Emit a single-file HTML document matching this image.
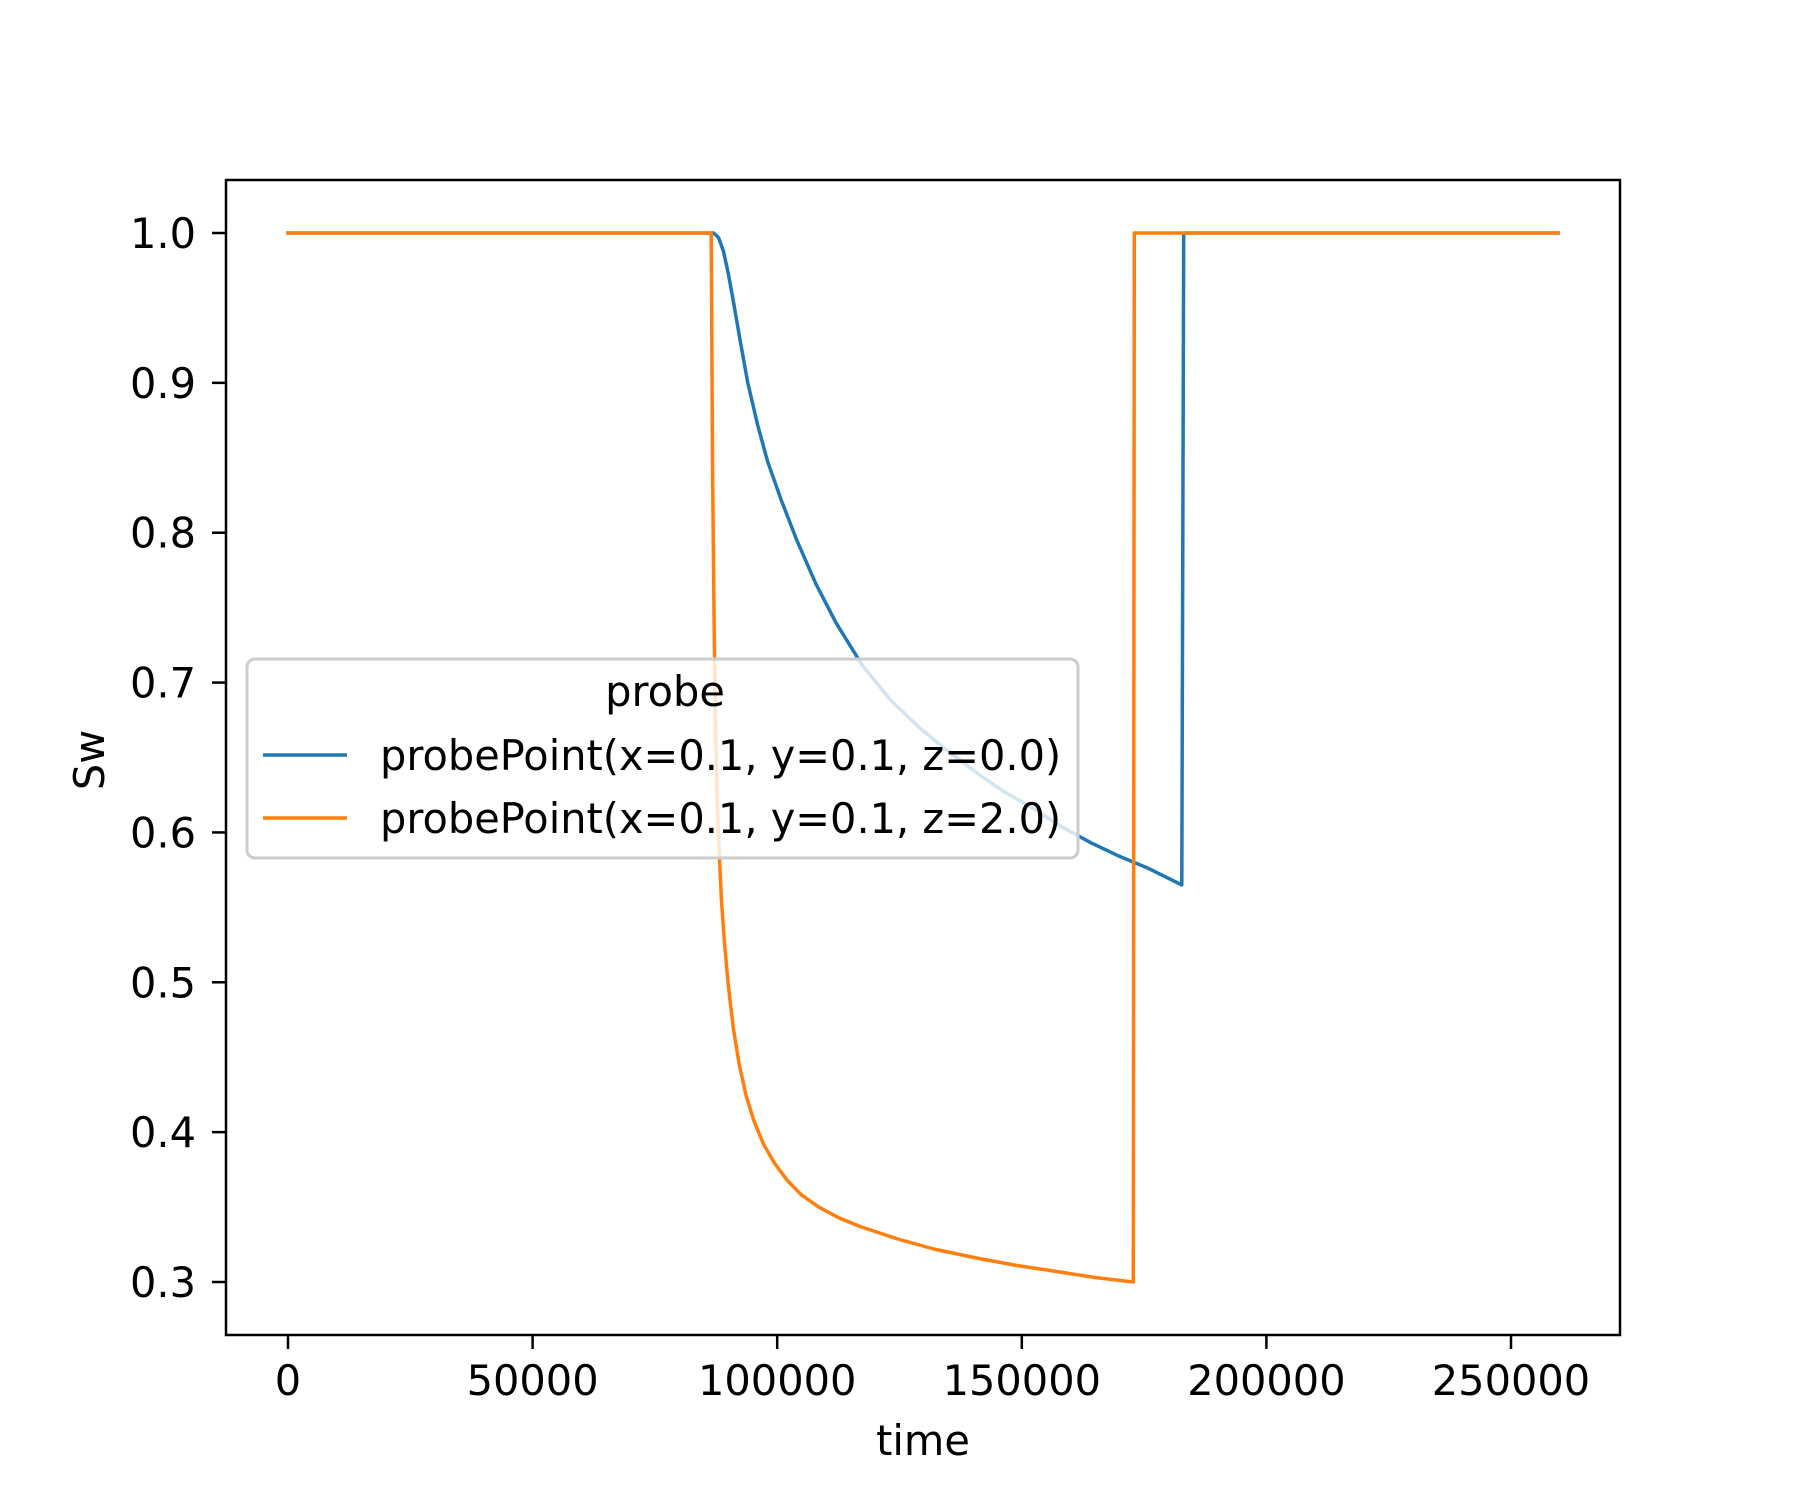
<!DOCTYPE html>
<html><head><meta charset="utf-8"><style>
html,body{margin:0;padding:0;background:#fff}
svg{display:block;font-family:"DejaVu Sans","Liberation Sans",sans-serif}
</style></head><body>
<svg id="chart" width="1800" height="1500" viewBox="0 0 1800 1500">
<rect width="1800" height="1500" fill="#fff"/>
<g id="plot"></g>
</svg>
<script>
const xTicks=[0,50000,100000,150000,200000,250000];
const yTicks=[0.3,0.4,0.5,0.6,0.7,0.8,0.9,1.0];
const blueT=[0,87000,88000,89000,90000,91000,92500,94000,96000,98000,100800,104000,107900,112000,117300,123000,129000,135000,140700,146000,152400,158000,164200,170000,175900,182700,183100,259600];
const blueV=[1.0,1.0,0.997,0.988,0.973,0.955,0.927,0.9,0.872,0.848,0.822,0.795,0.766,0.74,0.712,0.689,0.67,0.654,0.64,0.628,0.616,0.604,0.593,0.584,0.576,0.565,1.0,1.0];
const orangeT=[0,86500,86800,87100,87400,87700,88100,88600,89200,90000,91000,92200,93600,95200,97200,99500,102000,105000,108500,112500,117000,124300,132000,140700,149000,157100,165000,172800,173000,259600];
const orangeV=[1.0,1.0,0.84,0.74,0.67,0.625,0.59,0.555,0.527,0.498,0.47,0.446,0.425,0.408,0.392,0.379,0.368,0.358,0.35,0.343,0.337,0.329,0.322,0.316,0.311,0.307,0.303,0.3,1.0,1.0];
const L=226,R=1620,T=180,B=1335;
const sx=t=>288+t*(1511-288)/250000;
const sy=v=>233+(1-v)*(1282-233)/0.7;
const NS='http://www.w3.org/2000/svg';
const g=document.getElementById('plot');
function mk(tag,attrs,parent){const e=document.createElementNS(NS,tag);for(const k in attrs)e.setAttribute(k,attrs[k]);(parent||g).appendChild(e);return e;}
function series(ts,vs,color,name){
  const pts=ts.map((t,i)=>sx(t).toFixed(1)+','+sy(vs[i]).toFixed(1)).join(' ');
  const p=mk('polyline',{points:pts,fill:'none',stroke:color,'stroke-width':3.5,'stroke-linejoin':'round','stroke-linecap':'square'});
  
  
}
series(blueT,blueV,'#1f77b4','series-z0');
series(orangeT,orangeV,'#ff7f0e','series-z2');
const frame=mk('rect',{x:L,y:T,width:R-L,height:B-T,fill:'none',stroke:'#000','stroke-width':2.5});


xTicks.forEach(t=>{
  const x=sx(t);
  const tk=mk('line',{x1:x,x2:x,y1:B,y2:B+14,stroke:'#000','stroke-width':2.5});
  
  
  const tx=mk('text',{x:x,y:1395,'font-size':41.5,'text-anchor':'middle',fill:'#000'});
  tx.textContent=String(t);
  
  
});
yTicks.forEach(v=>{
  const y=sy(v);
  const tk=mk('line',{x1:L-14,x2:L,y1:y,y2:y,stroke:'#000','stroke-width':2.5});
  
  
  const tx=mk('text',{x:196,y:y+15,'font-size':41.5,'text-anchor':'end',fill:'#000'});
  tx.textContent=v.toFixed(1);
  
  
});
const xl=mk('text',{x:(L+R)/2,y:1455,'font-size':41.5,'text-anchor':'middle'});
xl.textContent='time';


const yl=mk('text',{x:0,y:0,'font-size':41.5,'text-anchor':'middle',transform:'translate(104,760) rotate(-90)'});
yl.textContent='Sw';


const lg=mk('g',{});


mk('rect',{x:247,y:659,width:831,height:199,rx:8,fill:'#fff','fill-opacity':0.8,stroke:'#ccc','stroke-width':3},lg);
const lt=mk('text',{x:665,y:706,'font-size':41.5,'text-anchor':'middle'},lg);
lt.textContent='probe';


[['#1f77b4','probePoint(x=0.1, y=0.1, z=0.0)',755],['#ff7f0e','probePoint(x=0.1, y=0.1, z=2.0)',818]].forEach(([c,s,y])=>{
  const ln=mk('line',{x1:263,x2:347,y1:y,y2:y,stroke:c,'stroke-width':3.5},lg);
  
  
  const tx=mk('text',{x:380,y:y+15,'font-size':41.5},lg);
  tx.textContent=s;
  
  
});
</script>
</body></html>
